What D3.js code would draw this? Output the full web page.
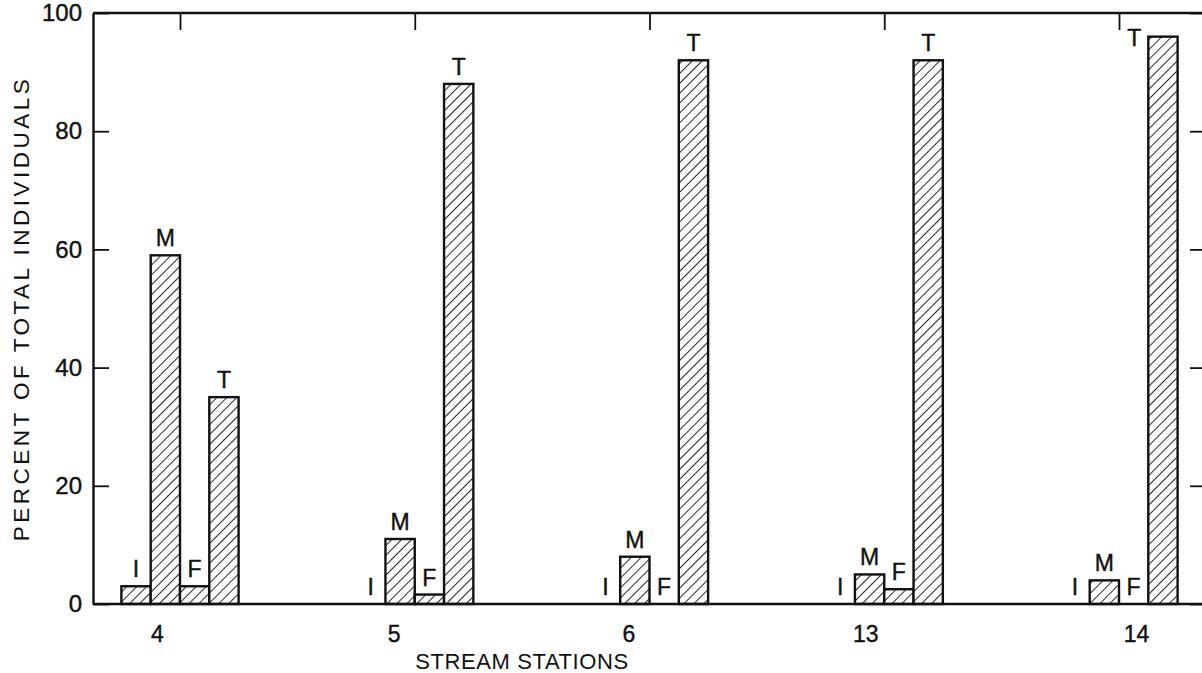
<!DOCTYPE html>
<html>
<head>
<meta charset="utf-8">
<script src="https://cdn.jsdelivr.net/npm/d3@7"></script>
<style>
  html, body { margin: 0; padding: 0; background: #fff; }
  svg { display: block; }
  text { font-family: "Liberation Sans", Arial, Helvetica, sans-serif; fill: #111; }
</style>
</head>
<body>
<svg id="chart" width="1202" height="673"></svg>
<script>
// Stream stations along the x axis
const stations = ["4", "5", "6", "13", "14"];
// Groups within each station
const groups = ["I", "M", "F", "T"];
// Percent of total individuals, one array per group, in station order
const valuesI = [3, 0, 0, 0, 0];
const valuesM = [59, 11, 8, 5, 4];
const valuesF = [3, 1.6, 0, 2.5, 0];
const valuesT = [35, 88, 92, 92, 96];
// Tick values on the percent axis
const yTicks = [0, 20, 40, 60, 80, 100];

const seriesValues = { I: valuesI, M: valuesM, F: valuesF, T: valuesT };
const rows = [];
stations.forEach((s, i) => {
  groups.forEach(g => rows.push({ station: s, group: g, value: seriesValues[g][i] }));
});

const W = 1202, H = 673;
const plot = { left: 93, right: 1206, top: 13, bottom: 604 };
const ink = "#111";
const fontFam = "Liberation Sans, Arial, sans-serif";

const svg = d3.select("#chart");
svg.append("rect").attr("width", W).attr("height", H).attr("fill", "#fff");

// Diagonal hatching used as the bar fill
const defs = svg.append("defs");
const step = 7;
const pat = defs.append("pattern")
  .attr("id", "hatch")
  .attr("patternUnits", "userSpaceOnUse")
  .attr("width", step).attr("height", step)
  .attr("patternTransform", "rotate(45)");
pat.append("rect").attr("width", step).attr("height", step).attr("fill", "#fff");
pat.append("line")
  .attr("x1", 0).attr("y1", 0).attr("x2", 0).attr("y2", step)
  .attr("stroke", ink).attr("stroke-width", 1.8);

const y = d3.scaleLinear().domain([0, 100]).range([plot.bottom, plot.top]);
const x0 = d3.scalePoint().domain(stations).range([180, 1119]);
const x1 = d3.scaleBand().domain(groups).range([-58.6, 58.6]);

// Bars
svg.append("g").selectAll("rect.bar")
  .data(rows.filter(d => d.value > 0))
  .join("rect")
  .attr("class", "bar")
  .attr("x", d => x0(d.station) + x1(d.group))
  .attr("y", d => y(d.value))
  .attr("width", x1.bandwidth())
  .attr("height", d => y(0) - y(d.value))
  .attr("fill", "url(#hatch)")
  .attr("stroke", ink)
  .attr("stroke-width", 2.4);

// Letter labels over each bar (the tallest one sits beside its bar, under the frame)
const isTopCorner = d => d.station === "14" && d.group === "T";
svg.append("g").selectAll("text.lab")
  .data(rows)
  .join("text")
  .attr("class", "lab")
  .attr("x", d => isTopCorner(d)
      ? x0(d.station) + x1(d.group) - 7
      : x0(d.station) + x1(d.group) + x1.bandwidth() / 2)
  .attr("y", d => isTopCorner(d) ? y(d.value) + 9 : y(d.value) - 9)
  .attr("text-anchor", d => isTopCorner(d) ? "end" : "middle")
  .attr("font-size", 23)
  .attr("stroke", ink).attr("stroke-width", 0.4)
  .text(d => d.group);

// Frame and axes
const axisStyle = g => {
  g.select(".domain").attr("stroke", ink).attr("stroke-width", 2.4);
  g.selectAll(".tick line").attr("stroke", ink).attr("stroke-width", 1.8);
};
const tickText = size => g => g.selectAll(".tick text")
  .attr("font-size", size).attr("font-family", fontFam)
  .attr("fill", ink).attr("stroke", ink).attr("stroke-width", 0.4);

svg.append("g")
  .attr("transform", `translate(${plot.left},0)`)
  .call(d3.axisLeft(y).tickValues(yTicks).tickSize(-16).tickSizeOuter(0).tickPadding(11))
  .call(axisStyle)
  .call(tickText(24));

svg.append("g")
  .attr("transform", `translate(${plot.right},0)`)
  .call(d3.axisRight(y).tickValues(yTicks).tickSize(-16).tickSizeOuter(0).tickFormat(""))
  .call(axisStyle);

svg.append("g")
  .attr("transform", `translate(0,${plot.top})`)
  .call(d3.axisTop(x0).tickSize(-17).tickSizeOuter(0).tickFormat(""))
  .call(axisStyle)
  .call(g => g.select(".domain").attr("d", `M${plot.left},0H${plot.right}`));

// Station numbers are lettered a little off the station centre
const stationLabelNudge = { "4": -23, "5": -21, "6": -21, "13": -19, "14": 17 };
svg.append("g")
  .attr("transform", `translate(0,${plot.bottom})`)
  .call(d3.axisBottom(x0).tickSize(0).tickPadding(22))
  .call(axisStyle)
  .call(g => g.select(".domain").attr("d", `M${plot.left},0H${plot.right}`))
  .call(tickText(23))
  .call(g => g.selectAll(".tick text").attr("dx", d => stationLabelNudge[d] || 0));

// Axis titles
svg.append("text")
  .attr("transform", `translate(29,${(plot.top + plot.bottom) / 2}) rotate(-90)`)
  .attr("text-anchor", "middle")
  .attr("font-size", 22.5)
  .attr("letter-spacing", 3.5)
  .text("PERCENT OF TOTAL INDIVIDUALS");

svg.append("text")
  .attr("x", 522)
  .attr("y", 669)
  .attr("text-anchor", "middle")
  .attr("font-size", 22)
  .attr("letter-spacing", 0.6)
  .text("STREAM STATIONS");
</script>
</body>
</html>
